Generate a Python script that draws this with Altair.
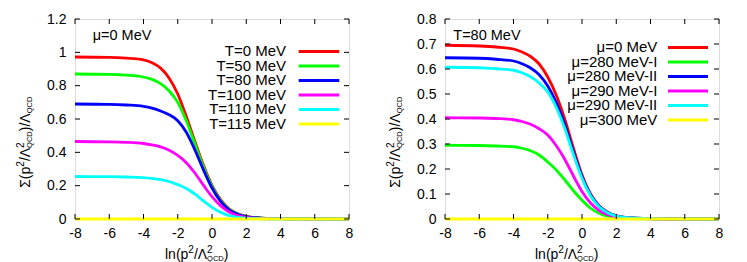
import altair as alt
import pandas as pd

FONT = "Liberation Sans"
W, H = 274, 200

# ---------------- data ----------------
x_vals = [-8, -6, -5, -4, -3.5, -3, -2.5, -2, -1.5, -1, -0.5, 0, 0.5, 1, 1.5, 2, 3, 4, 5, 8]

left_names = ["T=0 MeV", "T=50 MeV", "T=80 MeV", "T=100 MeV", "T=110 MeV", "T=115 MeV"]
left_T0 = [0.972, 0.970, 0.965, 0.955, 0.937, 0.905, 0.845, 0.750, 0.615, 0.465, 0.322, 0.202, 0.116, 0.061, 0.031, 0.016, 0.005, 0.002, 0.001, 0.0]
left_T50 = [0.870, 0.868, 0.863, 0.852, 0.838, 0.812, 0.768, 0.700, 0.590, 0.452, 0.312, 0.196, 0.111, 0.058, 0.030, 0.015, 0.005, 0.002, 0.001, 0.0]
left_T80 = [0.690, 0.688, 0.684, 0.676, 0.665, 0.648, 0.625, 0.590, 0.520, 0.415, 0.295, 0.186, 0.106, 0.055, 0.028, 0.014, 0.004, 0.002, 0.001, 0.0]
left_T100 = [0.465, 0.463, 0.460, 0.453, 0.445, 0.433, 0.413, 0.382, 0.338, 0.276, 0.203, 0.134, 0.080, 0.042, 0.021, 0.010, 0.003, 0.001, 0.0, 0.0]
left_T110 = [0.255, 0.254, 0.252, 0.248, 0.243, 0.236, 0.225, 0.206, 0.183, 0.150, 0.109, 0.070, 0.040, 0.020, 0.010, 0.005, 0.001, 0.0, 0.0, 0.0]
left_T115 = [0.0] * 20
left_series = [left_T0, left_T50, left_T80, left_T100, left_T110, left_T115]

right_names = ["μ=0 MeV", "μ=280 MeV-I", "μ=280 MeV-II", "μ=290 MeV-I", "μ=290 MeV-II", "μ=300 MeV"]
right_mu0 = [0.695, 0.692, 0.688, 0.680, 0.668, 0.650, 0.620, 0.568, 0.495, 0.398, 0.283, 0.177, 0.100, 0.053, 0.027, 0.013, 0.004, 0.0015, 0.0005, 0.0]
right_mu280I = [0.295, 0.294, 0.292, 0.289, 0.283, 0.273, 0.256, 0.228, 0.196, 0.156, 0.113, 0.075, 0.043, 0.023, 0.011, 0.005, 0.0015, 0.0005, 0.0, 0.0]
right_mu280II = [0.645, 0.643, 0.639, 0.632, 0.621, 0.604, 0.577, 0.532, 0.466, 0.376, 0.268, 0.169, 0.096, 0.051, 0.026, 0.013, 0.004, 0.0015, 0.0005, 0.0]
right_mu290I = [0.405, 0.404, 0.402, 0.397, 0.390, 0.379, 0.361, 0.336, 0.293, 0.238, 0.172, 0.110, 0.064, 0.034, 0.017, 0.008, 0.0025, 0.001, 0.0, 0.0]
right_mu290II = [0.607, 0.605, 0.601, 0.595, 0.585, 0.569, 0.544, 0.508, 0.446, 0.361, 0.258, 0.163, 0.093, 0.049, 0.025, 0.012, 0.004, 0.0015, 0.0005, 0.0]
right_mu300 = [0.0] * 20
right_series = [right_mu0, right_mu280I, right_mu280II, right_mu290I, right_mu290II, right_mu300]

colors = ["#ff0000", "#00ff00", "#0000ff", "#ff00ff", "#00ffff", "#ffff00"]

x_ticks = [-8, -6, -4, -2, 0, 2, 4, 6, 8]
left_y_ticks = [0, 0.2, 0.4, 0.6, 0.8, 1.0, 1.2]
right_y_ticks = [0, 0.1, 0.2, 0.3, 0.4, 0.5, 0.6, 0.7, 0.8]

ONE = pd.DataFrame({"k": [0]})


def txt(text, x, y, size, angle=0, align="left", baseline="alphabetic"):
    kw = dict(font=FONT, fontSize=size, align=align, baseline=baseline, color="black")
    if angle:
        kw["angle"] = angle
    return alt.Chart(pd.DataFrame({"t": [text]})).mark_text(**kw).encode(
        text="t:N", x=alt.value(x), y=alt.value(y)
    )


def panel(names, series, ymax, yticks, annot, annot_x, leg_top, leg_text_x, leg_x1, leg_x2):
    rows = []
    for name, vals in zip(names, series):
        for xv, yv in zip(x_vals, vals):
            rows.append({"x": xv, "y": yv, "series": name})
    df = pd.DataFrame(rows)

    xscale = alt.Scale(domain=[-8, 8], nice=False, zero=False)
    yscale = alt.Scale(domain=[0, ymax], nice=False, zero=True)
    xaxis = alt.Axis(values=x_ticks, labelExpr="datum.value + ''", ticks=False, domain=False,
                     grid=False, labelFontSize=14, labelFont=FONT, labelColor="black", title=None,
                     labelPadding=7, labelFlush=False, labelOverlap=False, labelBound=False)
    yaxis = alt.Axis(values=yticks, labelExpr="datum.value + ''", ticks=False, domain=False,
                     grid=False, labelFontSize=14, labelFont=FONT, labelColor="black", title=None,
                     labelPadding=9, labelFlush=False, labelOverlap=False, labelBound=False)

    lines = alt.Chart(df).mark_line(strokeWidth=2.8, interpolate="monotone").encode(
        x=alt.X("x:Q", scale=xscale, axis=xaxis),
        y=alt.Y("y:Q", scale=yscale, axis=yaxis),
        color=alt.Color("series:N", scale=alt.Scale(domain=names, range=colors), legend=None),
    )

    xt = pd.DataFrame({"v": x_ticks})
    yt = pd.DataFrame({"v": yticks})
    tick_b = alt.Chart(xt).mark_rule(color="black", strokeWidth=1).encode(
        x=alt.X("v:Q", scale=xscale, axis=xaxis), y=alt.value(H), y2=alt.value(H - 5))
    tick_t = alt.Chart(xt).mark_rule(color="black", strokeWidth=1).encode(
        x=alt.X("v:Q", scale=xscale, axis=xaxis), y=alt.value(0), y2=alt.value(5))
    tick_l = alt.Chart(yt).mark_rule(color="black", strokeWidth=1).encode(
        y=alt.Y("v:Q", scale=yscale, axis=yaxis), x=alt.value(0), x2=alt.value(5))
    tick_r = alt.Chart(yt).mark_rule(color="black", strokeWidth=1).encode(
        y=alt.Y("v:Q", scale=yscale, axis=yaxis), x=alt.value(W), x2=alt.value(W - 5))

    layers = [lines, tick_b, tick_t, tick_l, tick_r]

    # legend (text right-aligned, sample line on the right)
    for i, (name, col) in enumerate(zip(names, colors)):
        yy = leg_top + 14.5 * i
        layers.append(txt(name, leg_text_x, yy, 15, align="right", baseline="middle"))
        layers.append(
            alt.Chart(ONE).mark_rule(strokeWidth=3, color=col).encode(
                x=alt.value(leg_x1), x2=alt.value(leg_x2), y=alt.value(yy))
        )

    # annotation
    layers.append(txt(annot, annot_x, 21, 14.5))

    # x title: ln(p^2/Λ^2_QCD)
    xs = 90
    xb = 239.5
    layers.append(txt("ln(p", xs, xb, 14))
    layers.append(txt("2", xs + 23.3, xb - 6, 10))
    layers.append(txt("/Λ", xs + 28.9, xb, 14))
    layers.append(txt("2", xs + 42.1, xb - 6, 10))
    layers.append(txt("QCD", xs + 42.1, xb + 2, 7.5))
    layers.append(txt(")", xs + 58.8, xb, 14))

    # y title: Σ(p^2/Λ^2_QCD)/Λ_QCD (rotated, reads upward)
    yx = -45
    ys = 168.8
    layers.append(txt("Σ(p", yx, ys, 14, angle=270))
    layers.append(txt("2", yx - 6, ys - 21.1, 10, angle=270))
    layers.append(txt("/Λ", yx, ys - 26.7, 14, angle=270))
    layers.append(txt("2", yx - 6, ys - 39.9, 10, angle=270))
    layers.append(txt("QCD", yx + 2, ys - 39.9, 7.5, angle=270))
    layers.append(txt(")/Λ", yx, ys - 56.6, 14, angle=270))
    layers.append(txt("QCD", yx + 2, ys - 74.5, 7.5, angle=270))

    return alt.layer(*layers).properties(width=W, height=H)


left = panel(left_names, left_series, 1.2, left_y_ticks, "μ=0 MeV", 17.7, 32.4, 211, 223.7, 264.3)
right = panel(right_names, right_series, 0.8, right_y_ticks, "T=80 MeV", 8.3, 28.4, 212.3, 223, 263)

chart = alt.hconcat(left, right, spacing=29).properties(
    padding={"left": 7, "top": 3, "right": 5, "bottom": 0}
).configure_view(stroke="black", strokeWidth=1).configure(background="white")

chart.save("out.html", embed_options={"renderer": "svg", "actions": False})
